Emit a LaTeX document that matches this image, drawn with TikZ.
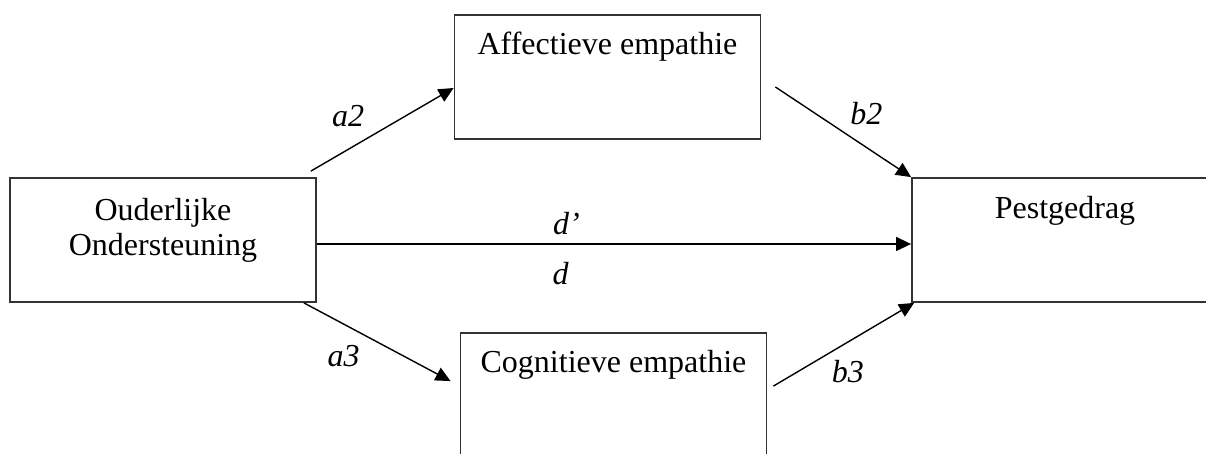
\documentclass[tikz,border=0pt]{standalone}
\usepackage{fontspec}
\setmainfont{Liberation Serif}
\usepackage{tikz}
\usetikzlibrary{positioning, arrows.meta}
\tikzset{>={Triangle[length=7.5pt, width=7pt]}}
\tikzset{box/.style={draw=black!80, line width=0.9pt, rectangle, inner sep=0pt, minimum width=153pt, minimum height=62pt},
  boxtext/.style={inner sep=0pt, align=center, font=\fontsize{16}{17.5}\selectfont},
  lbl/.style={inner sep=0pt, font=\fontsize{16}{17}\selectfont\itshape}}

\begin{document}
\begin{tikzpicture}[x=0.5pt, y=0.5pt]
\path[use as bounding box, clip] (0,0) rectangle (1206,454);
\node[box] (ouder) at (163,214) {};
\node[box] (aff) at (607.5,377) {};
\node[box] (cog) at (613.5,59) {};
\node[box] (pest) at (1065,214) {};
\node[boxtext, below=10.5pt of ouder.north] (oudertxt) {Ouderlijke\\Ondersteuning};
\node[boxtext, below=8.8pt of aff.north] (afftxt) {Affectieve empathie};
\node[boxtext, below=9pt of cog.north] (cogtxt) {Cognitieve empathie};
\node[boxtext, below=9.3pt of pest.north] (pesttxt) {Pestgedrag};
\draw[->, line width=0.7pt] ([shift={(-3pt,3pt)}]ouder.north east) --
  node[lbl, pos=0.26, yshift=16.5pt] {a2} ([yshift=-5.5pt]aff.west);
\draw[->, line width=0.7pt] ([shift={(7pt,-5pt)}]aff.east) --
  node[lbl, pos=0.67, yshift=17pt] {b2} (pest.north west);
\draw[->, line width=0.7pt] ([xshift=-6.5pt]ouder.south east) --
  node[lbl, pos=0.27, yshift=-16pt] {a3} ([shift={(-4.5pt,-24.5pt)}]cog.north west);
\draw[->, line width=0.7pt] ([shift={(3pt,-27pt)}]cog.north east) --
  node[lbl, pos=0.53, yshift=-15pt] {b3} ([xshift=1.5pt]pest.south west);
\draw[->, line width=0.7pt] ([yshift=-2pt]ouder.east) --
  node[lbl, pos=0.42, above=4pt] {d'} node[lbl, pos=0.41, below=9pt] {d} ([yshift=-2pt]pest.west);
\end{tikzpicture}
\end{document}
